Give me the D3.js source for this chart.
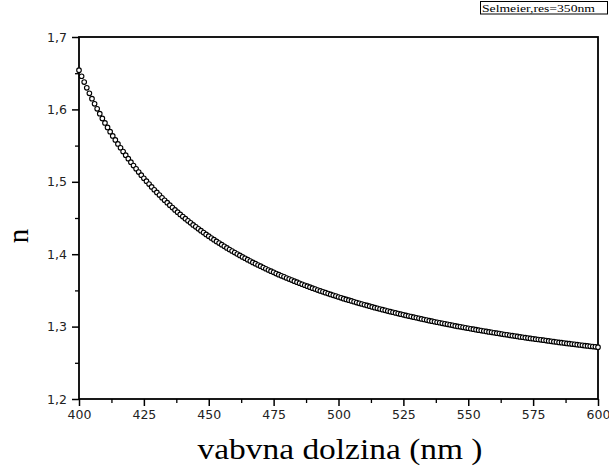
<!DOCTYPE html>
<html>
<head>
<meta charset="utf-8">
<script src="https://cdn.jsdelivr.net/npm/d3@7"></script>
<style>
  html, body { margin: 0; padding: 0; background: #fff; }
  svg { display: block; }
</style>
</head>
<body>
<svg id="chart" width="609" height="466"></svg>
<script>
// ---------- data ----------
const wavelengths = d3.range(400, 601, 1); // nm, sample positions
const refractiveIndex = [
  1.6542, 1.6458, 1.6377, 1.6298, 1.6222, 1.6148, 1.6077, 1.6008, 1.5941, 1.5876,
  1.5813, 1.5751, 1.5692, 1.5634, 1.5578, 1.5523, 1.5470, 1.5418, 1.5368, 1.5319,
  1.5271, 1.5224, 1.5179, 1.5135, 1.5091, 1.5049, 1.5008, 1.4968, 1.4929, 1.4890,
  1.4853, 1.4816, 1.4780, 1.4745, 1.4711, 1.4677, 1.4644, 1.4612, 1.4581, 1.4550,
  1.4520, 1.4490, 1.4461, 1.4433, 1.4405, 1.4378, 1.4351, 1.4325, 1.4299, 1.4273,
  1.4249, 1.4224, 1.4200, 1.4177, 1.4154, 1.4131, 1.4109, 1.4087, 1.4065, 1.4044,
  1.4023, 1.4003, 1.3983, 1.3963, 1.3944, 1.3925, 1.3906, 1.3887, 1.3869, 1.3851,
  1.3834, 1.3816, 1.3799, 1.3782, 1.3766, 1.3749, 1.3733, 1.3717, 1.3702, 1.3687,
  1.3671, 1.3656, 1.3642, 1.3627, 1.3613, 1.3599, 1.3585, 1.3571, 1.3558, 1.3544,
  1.3531, 1.3518, 1.3505, 1.3493, 1.3480, 1.3468, 1.3456, 1.3444, 1.3432, 1.3421,
  1.3409, 1.3398, 1.3386, 1.3375, 1.3365, 1.3354, 1.3343, 1.3332, 1.3322, 1.3312,
  1.3302, 1.3292, 1.3282, 1.3272, 1.3262, 1.3253, 1.3243, 1.3234, 1.3225, 1.3215,
  1.3206, 1.3198, 1.3189, 1.3180, 1.3171, 1.3163, 1.3154, 1.3146, 1.3138, 1.3130,
  1.3122, 1.3114, 1.3106, 1.3098, 1.3090, 1.3082, 1.3075, 1.3067, 1.3060, 1.3053,
  1.3045, 1.3038, 1.3031, 1.3024, 1.3017, 1.3010, 1.3003, 1.2997, 1.2990, 1.2983,
  1.2977, 1.2970, 1.2964, 1.2958, 1.2951, 1.2945, 1.2939, 1.2933, 1.2927, 1.2921,
  1.2915, 1.2909, 1.2903, 1.2897, 1.2891, 1.2886, 1.2880, 1.2875, 1.2869, 1.2864,
  1.2858, 1.2853, 1.2847, 1.2842, 1.2837, 1.2832, 1.2827, 1.2822, 1.2817, 1.2812,
  1.2807, 1.2802, 1.2797, 1.2792, 1.2787, 1.2782, 1.2778, 1.2773, 1.2768, 1.2764,
  1.2759, 1.2755, 1.2750, 1.2746, 1.2741, 1.2737, 1.2733, 1.2728, 1.2724, 1.2720,
  1.2716
];
const xTicks = [400, 425, 450, 475, 500, 525, 550, 575, 600];
const xMinorTicks = [412.5, 437.5, 462.5, 487.5, 512.5, 537.5, 562.5, 587.5];
const yTicks = [1.2, 1.3, 1.4, 1.5, 1.6, 1.7];
const yMinorTicks = [1.25, 1.35, 1.45, 1.55, 1.65];
const xTitle = "vabvna dolzina (nm )";
const yTitle = "n";
const legendLabel = "Selmeier,res=350nm";

// ---------- layout ----------
const svg = d3.select("#chart");
const L = 79, R = 598, T = 37, B = 399;

const x = d3.scaleLinear().domain([400, 600]).range([L, R]);
const y = d3.scaleLinear().domain([1.2, 1.7]).range([B, T]);

const fmtY = d => d.toFixed(1).replace(".", ",");
const tickFont = "'DejaVu Sans', Verdana, sans-serif";
const titleFont = "'Liberation Serif', 'Times New Roman', serif";

// minor ticks
svg.append("g").attr("transform", `translate(0,${B})`)
  .call(d3.axisBottom(x).tickValues(xMinorTicks).tickSize(4).tickFormat(""))
  .call(g => g.select(".domain").remove())
  .call(g => g.selectAll("line").attr("stroke", "#000").attr("stroke-width", 1.3));
svg.append("g").attr("transform", `translate(${L},0)`)
  .call(d3.axisLeft(y).tickValues(yMinorTicks).tickSize(4).tickFormat(""))
  .call(g => g.select(".domain").remove())
  .call(g => g.selectAll("line").attr("stroke", "#000").attr("stroke-width", 1.3));

// major axes
const xAxis = svg.append("g").attr("transform", `translate(0,${B})`)
  .call(d3.axisBottom(x).tickValues(xTicks).tickSize(7).tickPadding(4).tickFormat(d3.format("d")));
const yAxis = svg.append("g").attr("transform", `translate(${L},0)`)
  .call(d3.axisLeft(y).tickValues(yTicks).tickSize(7).tickPadding(5).tickFormat(fmtY));

[xAxis, yAxis].forEach(g => {
  g.select(".domain").remove();
  g.selectAll("line").attr("stroke", "#000").attr("stroke-width", 1.5);
  g.selectAll("text").attr("fill", "#222").style("font-family", tickFont).style("font-size", "12.5px");
});

// frame
svg.append("rect")
  .attr("x", L).attr("y", T).attr("width", R - L).attr("height", B - T)
  .attr("fill", "none").attr("stroke", "#000").attr("stroke-width", 1.8);

// data points
const pts = wavelengths.map((w, i) => ({ w, n: refractiveIndex[i] }));
svg.append("g").selectAll("circle").data(pts).join("circle")
  .attr("cx", d => x(d.w)).attr("cy", d => y(d.n)).attr("r", 2.3)
  .attr("fill", "#fff").attr("stroke", "#000").attr("stroke-width", 1.1);

// titles
svg.append("text")
  .attr("x", 340).attr("y", 459).attr("text-anchor", "middle")
  .attr("textLength", 285).attr("lengthAdjust", "spacingAndGlyphs")
  .style("font-family", titleFont)
  .style("font-size", "29px").attr("fill", "#000")
  .text(xTitle);

svg.append("text")
  .attr("transform", "translate(28,236) rotate(-90)")
  .attr("text-anchor", "middle")
  .style("font-family", titleFont)
  .style("font-size", "29px").attr("fill", "#000")
  .text(yTitle);

// legend box
svg.append("rect")
  .attr("x", 480.5).attr("y", 1.5).attr("width", 127).attr("height", 12.5)
  .attr("fill", "#fff").attr("stroke", "#000").attr("stroke-width", 1);
svg.append("text")
  .attr("x", 482).attr("y", 11.5)
  .attr("textLength", 113).attr("lengthAdjust", "spacingAndGlyphs")
  .style("font-family", titleFont)
  .style("font-size", "10px").attr("fill", "#000")
  .text(legendLabel);
</script>
</body>
</html>
